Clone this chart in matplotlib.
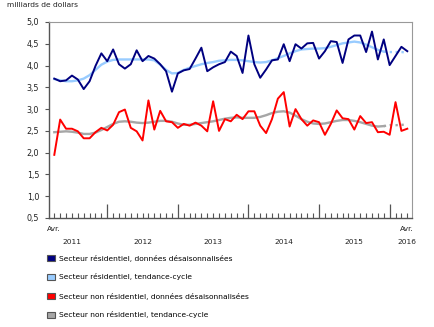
import matplotlib
matplotlib.use("Agg")
import matplotlib.pyplot as plt
from matplotlib.patches import Patch
from matplotlib.transforms import blended_transform_factory

# Months from April 2011 (index 0) to April 2016 (index 60)
res_sa = [3.70, 3.64, 3.66, 3.77, 3.68, 3.46, 3.64, 3.99, 4.28, 4.10,
          4.37, 4.03, 3.93, 4.03, 4.35, 4.10, 4.22, 4.16, 4.03, 3.87,
          3.40, 3.82, 3.89, 3.92, 4.16, 4.41, 3.87, 3.96, 4.03, 4.08,
          4.32, 4.22, 3.83, 4.69, 4.03, 3.72, 3.91, 4.12, 4.14, 4.49,
          4.10, 4.49, 4.39, 4.51, 4.52, 4.16, 4.33, 4.56, 4.54, 4.06,
          4.60, 4.69, 4.69, 4.31, 4.78, 4.14, 4.60, 4.01, 4.22, 4.43,
          4.33]
res_tc = [3.69, 3.66, 3.64, 3.64, 3.66, 3.70, 3.78, 3.90, 4.02, 4.09,
          4.13, 4.14, 4.14, 4.14, 4.14, 4.14, 4.14, 4.12, 4.02, 3.90,
          3.82, 3.83, 3.90, 3.95, 3.99, 4.03, 4.06, 4.08, 4.11, 4.12,
          4.13, 4.13, 4.12, 4.10, 4.08, 4.07, 4.08, 4.12, 4.17, 4.22,
          4.28, 4.33, 4.37, 4.38, 4.39, 4.39, 4.40, 4.43, 4.47, 4.51,
          4.53, 4.55, 4.53, 4.48, 4.42, 4.36, 4.32, 4.31, 4.31, 4.31,
          4.30]
nres_sa = [1.95, 2.76, 2.55, 2.55, 2.49, 2.33, 2.33, 2.47, 2.57, 2.51,
           2.64, 2.93, 2.99, 2.57, 2.49, 2.28, 3.20, 2.53, 2.96, 2.72,
           2.70, 2.57, 2.66, 2.62, 2.69, 2.62, 2.49, 3.18, 2.50, 2.77,
           2.72, 2.87, 2.77, 2.95, 2.95, 2.62, 2.45, 2.77, 3.24, 3.39,
           2.60, 3.00, 2.77, 2.62, 2.74, 2.70, 2.41, 2.66, 2.97, 2.79,
           2.77, 2.53, 2.84, 2.68, 2.70, 2.47, 2.48, 2.41, 3.16, 2.50,
           2.55]
nres_tc = [2.47, 2.48, 2.49, 2.48, 2.46, 2.43, 2.43, 2.46, 2.52, 2.59,
           2.66, 2.71, 2.72, 2.71, 2.69, 2.68, 2.69, 2.71, 2.73, 2.73,
           2.71, 2.67, 2.64, 2.64, 2.66, 2.68, 2.70, 2.72, 2.75, 2.78,
           2.80, 2.81, 2.80, 2.80, 2.80, 2.82, 2.86, 2.91, 2.94, 2.95,
           2.92, 2.85, 2.77, 2.71, 2.67, 2.66, 2.67, 2.70, 2.73, 2.75,
           2.75, 2.73, 2.70, 2.66, 2.62, 2.60, 2.61, 2.63, 2.63, 2.64,
           2.64]
trend_solid_end = 56  # last index drawn solid; later trend points are dotted

year_labels = ["2011", "2012", "2013", "2014", "2015", "2016"]
year_label_pos = [3, 15, 27, 39, 51, 60]
month_labels = ["Avr.", "Avr."]
month_label_pos = [0, 60]
jan_positions = [9, 21, 33, 45, 57]
y_ticks = [0.5, 1.0, 1.5, 2.0, 2.5, 3.0, 3.5, 4.0, 4.5, 5.0]
legend_labels = ["Secteur résidentiel, données désaisonnalisées",
                 "Secteur résidentiel, tendance-cycle",
                 "Secteur non résidentiel, données désaisonnalisées",
                 "Secteur non résidentiel, tendance-cycle"]
unit_label = "milliards de dollars"

C_DARK = "#000080"
C_LIGHT = "#99ccff"
C_RED = "#ff0000"
C_GRAY = "#a6a6a6"
FS = 5.4
TXT = "#222222"

fig = plt.figure(figsize=(4.35, 3.27), dpi=100)
ax = fig.add_axes([49/435, 1-218/327, (412-49)/435, (218-22)/327])

x = list(range(len(res_sa)))
k = trend_solid_end
ax.plot(x[:k+1], res_tc[:k+1], color=C_LIGHT, lw=1.7, zorder=2)
ax.plot(x[k:], res_tc[k:], color=C_LIGHT, lw=1.7, ls=(0, (1, 1.5)), zorder=2)
ax.plot(x[:k+1], nres_tc[:k+1], color=C_GRAY, lw=1.7, zorder=2)
ax.plot(x[k:], nres_tc[k:], color=C_GRAY, lw=1.7, ls=(0, (1, 1.5)), zorder=2)
ax.plot(x, res_sa, color=C_DARK, lw=1.4, zorder=3)
ax.plot(x, nres_sa, color=C_RED, lw=1.4, zorder=3)

ax.set_xlim(-0.9, 60.8)
ax.set_ylim(0.5, 5.0)
ax.set_yticks(y_ticks)
ax.set_yticklabels([f"{v:.1f}".replace(".", ",") for v in y_ticks], fontsize=FS + 0.4, color=TXT)
ax.tick_params(axis="y", direction="out", length=3, width=0.8, color="#555555", pad=4)

ax.set_xticks(jan_positions)
ax.set_xticklabels([])
ax.set_xticks(x, minor=True)
ax.tick_params(axis="x", which="major", direction="in", length=10, width=0.9, color="#555555")
ax.tick_params(axis="x", which="minor", direction="in", length=3.5, width=0.8, color="#555555")

for side in ["top", "right"]:
    ax.spines[side].set_color("#999999")
    ax.spines[side].set_linewidth(0.8)
for side in ["left", "bottom"]:
    ax.spines[side].set_color("#555555")
    ax.spines[side].set_linewidth(1.0)

tr = blended_transform_factory(ax.transData, fig.transFigure)
for lab, pos in zip(month_labels, month_label_pos):
    ax.text(pos, 1-229/327, lab, transform=tr, ha="center", va="center", fontsize=FS, color=TXT)
for lab, pos in zip(year_labels, year_label_pos):
    ax.text(pos, 1-242/327, lab, transform=tr, ha="center", va="center", fontsize=FS, color=TXT)

fig.text(7/435, 1-5/327, unit_label, ha="left", va="center", fontsize=FS, color=TXT)

handles = [Patch(facecolor=c, edgecolor="#555555", linewidth=0.8) for c in [C_DARK, C_LIGHT, C_RED, C_GRAY]]
fig.legend(handles, legend_labels, loc="upper left", bbox_to_anchor=(47.5/435, 1-254.5/327),
           frameon=False, fontsize=FS, handlelength=1.0, handleheight=1.0,
           handletextpad=0.5, labelspacing=1.6, borderaxespad=0, borderpad=0)

fig.savefig("out.png", dpi=100)
